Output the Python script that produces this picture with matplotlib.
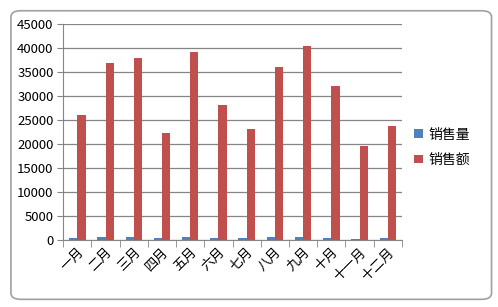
import numpy as np
import matplotlib.pyplot as plt
from matplotlib.patches import FancyBboxPatch

plt.rcParams['font.family'] = ['Noto Sans CJK SC', 'DejaVu Sans']

# données
months = ['一月', '二月', '三月', '四月', '五月', '六月', '七月', '八月', '九月', '十月', '十一月', '十二月']
qty = [500, 650, 650, 500, 650, 500, 500, 650, 650, 500, 300, 500]
amount = [26000, 37000, 38000, 22300, 39200, 28100, 23100, 36000, 40400, 32100, 19600, 23800]

fig = plt.figure(figsize=(4.98, 3.07), dpi=100)
fig.patch.set_facecolor('white')

# cadre du graphique
frame = FancyBboxPatch((0.022, 0.025), 0.965, 0.94, boxstyle='round,pad=0,rounding_size=0.02',
                       transform=fig.transFigure, facecolor='white', edgecolor='#a0a0a0',
                       linewidth=1.2, zorder=-10)
fig.patches.append(frame)

ax = fig.add_axes([0.127, 0.218, 0.68, 0.703])
ax.set_facecolor('none')
x = np.arange(len(months))
w = 0.29
ax.bar(x - w / 2, qty, w, color='#4f81bd', label='销售量')
ax.bar(x + w / 2, amount, w, color='#c0504d', label='销售额')

ax.set_xlim(-0.5, len(months) - 0.5)
ax.set_ylim(0, 45000)
ax.set_yticks(np.arange(0, 45001, 5000))
ax.yaxis.grid(True, color='#868686', linewidth=0.9)
ax.set_axisbelow(True)
for s in ['top', 'right']:
    ax.spines[s].set_visible(False)
ax.spines['left'].set_color('#868686')
ax.spines['bottom'].set_color('#868686')
ax.tick_params(axis='y', length=4, color='#868686', labelsize=9.5, pad=3)
ax.set_xticks(x)
ax.set_xticklabels(months, rotation=45, ha='right', rotation_mode='anchor', fontsize=9.5)
ax.tick_params(axis='x', length=0, pad=4)
ax.set_xticks(np.arange(-0.5, len(months)), minor=True)
ax.tick_params(axis='x', which='minor', length=5, color='#868686')

ax.legend(loc='center left', bbox_to_anchor=(1.0, 0.43), frameon=False, fontsize=10,
          handlelength=0.6, handleheight=0.6, handletextpad=0.4, labelspacing=0.8)

plt.savefig('out.png', dpi=100)
